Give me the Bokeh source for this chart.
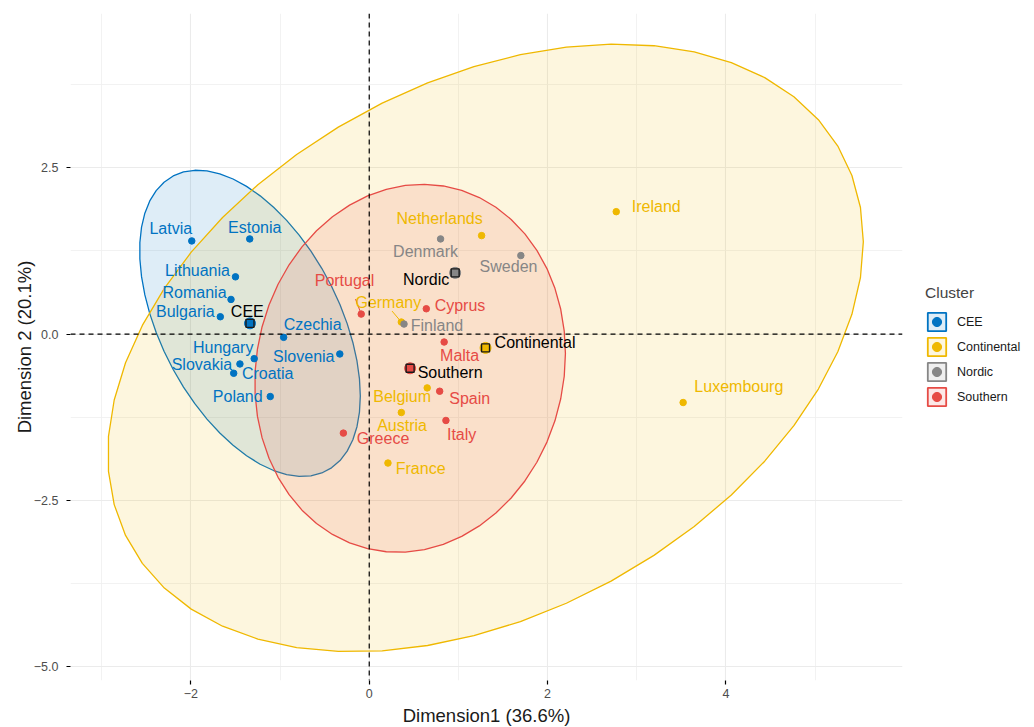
import numpy as np
from bokeh.plotting import figure
from bokeh.models import (ColumnDataSource, Span, FixedTicker, Legend, LegendItem, Range1d)
from bokeh.core.properties import value
from bokeh.embed import file_html
from bokeh.resources import INLINE

# ---- data: country scores on the first two dimensions ----
countries = ["Latvia", "Estonia", "Lithuania", "Romania", "Bulgaria", "Czechia",
             "Hungary", "Slovakia", "Croatia", "Slovenia", "Poland",
             "Netherlands", "Germany", "Ireland", "Belgium", "Austria", "France",
             "Luxembourg",
             "Denmark", "Sweden", "Finland",
             "Portugal", "Cyprus", "Malta", "Spain", "Italy", "Greece"]
dim1 = [-1.99, -1.34, -1.50, -1.55, -1.67, -0.96,
        -1.29, -1.45, -1.52, -0.33, -1.11,
        1.26, 0.36, 2.77, 0.65, 0.36, 0.21, 3.52,
        0.80, 1.70, 0.39,
        -0.09, 0.64, 0.84, 0.79, 0.86, -0.29]
dim2 = [1.40, 1.43, 0.86, 0.52, 0.26, -0.05,
        -0.37, -0.45, -0.59, -0.30, -0.94,
        1.48, 0.18, 1.84, -0.81, -1.18, -1.94, -1.03,
        1.43, 1.18, 0.15,
        0.30, 0.38, -0.12, -0.86, -1.30, -1.49]
cluster = (["CEE"] * 11 + ["Continental"] * 7 + ["Nordic"] * 3 + ["Southern"] * 6)

cluster_names = ["CEE", "Continental", "Nordic", "Southern"]
cluster_colors = ["#0073C2", "#EFB800", "#868686", "#E64B45"]

x_ticks = [-2, 0, 2, 4]
x_minor = [-3, -1, 1, 3, 5]
y_ticks = [-5.0, -2.5, 0.0, 2.5]
y_minor = [-3.75, -1.25, 1.25, 3.75]
x_title = "Dimension1 (36.6%)"
y_title = "Dimension 2 (20.1%)"

# label placement (screen pixels relative to each point)
label_offsets = {
    "Latvia": (-21, -12), "Estonia": (5, -11), "Lithuania": (-38, -6),
    "Romania": (-36.5, -7), "Bulgaria": (-35, -5), "Czechia": (29, -12.5),
    "Hungary": (-31, -11), "Slovakia": (-38, 1), "Croatia": (34, 0.5),
    "Slovenia": (-36, 2.7), "Poland": (-32.5, 0.3),
    "Netherlands": (-42, -17.5), "Germany": (-13, -19.5), "Ireland": (40, -5),
    "Belgium": (-25, 8.7), "Austria": (0.7, 12.7), "France": (32.7, 5.7),
    "Luxembourg": (55.7, -15.7),
    "Denmark": (-15, 13), "Sweden": (-12.3, 11.3), "Finland": (33, 1),
    "Portugal": (-16.7, -34), "Cyprus": (33.7, -3.7), "Malta": (15.5, 13.7),
    "Spain": (30, 7.7), "Italy": (15.7, 14), "Greece": (39.7, 5.7),
}
center_offsets = {"CEE": (-2.7, -12), "Continental": (49.5, -5.3),
                  "Nordic": (-29, 7), "Southern": (40, 4.7)}
# leader lines for labels pushed away from their points
leader_ends = {"Portugal": (-5.7, -15), "Germany": (-9.3, -11)}

FRAME_W, FRAME_H = 832, 667
X0, X1 = -3.35, 5.98
Y0, Y1 = -5.21, 4.82
px_x = FRAME_W / (X1 - X0)
px_y = FRAME_H / (Y1 - Y0)
FONT = "Liberation Sans"

color_of = dict(zip(cluster_names, cluster_colors))
x = np.array(dim1)
y = np.array(dim2)
grp = np.array(cluster)


def norm_ellipse(xs, ys, level=0.95, segments=51):
    """Multivariate-normal data ellipse (same construction as stat_ellipse)."""
    pts = np.column_stack([xs, ys])
    dfn, dfd = 2, len(pts) - 1
    if dfd < 3:
        return None
    center = pts.mean(axis=0)
    upper = np.linalg.cholesky(np.cov(pts, rowvar=False)).T
    fq = (dfd / 2.0) * ((1 - level) ** (-2.0 / dfd) - 1)  # F(2, dfd) quantile
    radius = np.sqrt(dfn * fq)
    ang = np.arange(segments + 1) * 2 * np.pi / segments
    circle = np.column_stack([np.cos(ang), np.sin(ang)])
    e = center + radius * (circle @ upper)
    return e[:, 0], e[:, 1]


p = figure(frame_width=FRAME_W, frame_height=FRAME_H,
           x_range=Range1d(X0, X1), y_range=Range1d(Y0, Y1),
           output_backend="svg", toolbar_location=None,
           min_border_left=70, min_border_right=132,
           min_border_top=13, min_border_bottom=47,
           background_fill_color="white", border_fill_color="white")
p.outline_line_color = None

# axes and grid
p.xaxis.ticker = FixedTicker(ticks=x_ticks, minor_ticks=x_minor)
p.yaxis.ticker = FixedTicker(ticks=y_ticks, minor_ticks=y_minor)
p.xaxis.major_label_overrides = {t: (str(t).replace("-", "\u2212")) for t in x_ticks}
p.yaxis.major_label_overrides = {t: (f"{t:.1f}".replace("-", "\u2212")) for t in y_ticks}
for ax in (p.xaxis[0], p.yaxis[0]):
    ax.axis_line_color = None
    ax.major_tick_line_color = "black"
    ax.major_tick_line_width = 1.2
    ax.major_tick_out = 4
    ax.major_tick_in = 0
    ax.minor_tick_out = 0
    ax.minor_tick_in = 0
    ax.major_label_text_font = FONT
    ax.major_label_text_font_size = "12.5px"
    ax.major_label_text_color = "#4D4D4D"
    ax.axis_label_text_font = FONT
    ax.axis_label_text_font_size = "18.5px"
    ax.axis_label_text_font_style = "normal"
    ax.axis_label_text_color = "#1A1A1A"
p.xaxis.axis_label = x_title
p.yaxis.axis_label = y_title
p.xaxis.major_label_standoff = 4
p.xaxis.axis_label_standoff = 4
p.yaxis.major_label_standoff = 8
p.yaxis.axis_label_standoff = -4

for g in (p.xgrid[0], p.ygrid[0]):
    g.grid_line_color = "#EBEBEB"
    g.grid_line_width = 1.1
    g.minor_grid_line_color = "#EFEFEF"
    g.minor_grid_line_width = 0.8

# confidence ellipses per cluster
for name in cluster_names:
    m = grp == name
    ell = norm_ellipse(x[m], y[m])
    if ell is None:
        continue
    col = color_of[name]
    p.patch(ell[0], ell[1], fill_color=col, fill_alpha=0.13,
            line_color=col, line_width=1.3)

# reference lines through the origin
p.add_layout(Span(location=0, dimension="height", line_color="black",
                  line_dash="5 4", line_width=1.2))
p.add_layout(Span(location=0, dimension="width", line_color="black",
                  line_dash="5 4", line_width=1.2))

colors = [color_of[c] for c in cluster]
dx = [label_offsets[c][0] for c in countries]
dy = [label_offsets[c][1] for c in countries]
src = ColumnDataSource(dict(x=x, y=y, name=countries, color=colors, dx=dx, dy=dy))

# leader segments
lead = [i for i, c in enumerate(countries) if c in leader_ends]
p.segment(x0=[x[i] for i in lead], y0=[y[i] for i in lead],
          x1=[x[i] + leader_ends[countries[i]][0] / px_x for i in lead],
          y1=[y[i] - leader_ends[countries[i]][1] / px_y for i in lead],
          line_color=[colors[i] for i in lead], line_width=1)

p.scatter("x", "y", source=src, marker="circle", size=6.5,
          fill_color="color", line_color="color")
p.text("x", "y", text="name", source=src, x_offset="dx", y_offset="dy",
       text_color="color", text_font=value(FONT), text_font_size="16px",
       text_align="center", text_baseline="middle")

# cluster centres
cx = [float(x[grp == n].mean()) for n in cluster_names]
cy = [float(y[grp == n].mean()) for n in cluster_names]
csrc = ColumnDataSource(dict(x=cx, y=cy, name=cluster_names, color=cluster_colors,
                             dx=[center_offsets[n][0] for n in cluster_names],
                             dy=[center_offsets[n][1] for n in cluster_names]))
p.scatter("x", "y", source=csrc, marker="circle", size=11,
          fill_color="color", line_color="color")
p.scatter("x", "y", source=csrc, marker="square", size=8,
          fill_color="color", line_color="#1A1A1A", line_width=1.4)
p.text("x", "y", text="name", source=csrc, x_offset="dx", y_offset="dy",
       text_color="black", text_font=value(FONT), text_font_size="16px",
       text_align="center", text_baseline="middle")

# legend keys: renderers with a single undefined (NaN) row, drawn only in the legend
nan = float("nan")
items = []
for name, col in zip(cluster_names, cluster_colors):
    box = p.quad(left=[nan], right=[nan], top=[nan], bottom=[nan], fill_color=col,
                 fill_alpha=0.13, line_color=col, line_width=1.8)
    dot = p.scatter(x=[nan], y=[nan], marker="circle", size=9,
                    fill_color=col, line_color=col)
    items.append(LegendItem(label=name, renderers=[box, dot]))
legend = Legend(items=items, title="Cluster", location=(23, 272),
                glyph_width=23, glyph_height=23, label_height=23, spacing=2,
                label_standoff=9, padding=0, margin=0,
                border_line_color=None, background_fill_alpha=0,
                title_text_font=FONT, title_text_font_size="15.5px",
                title_text_font_style="normal", title_standoff=8,
                label_text_font=FONT, label_text_font_size="12.5px",
                label_text_color="#1A1A1A")
p.add_layout(legend, "right")

open("out.html", "w").write(file_html(p, INLINE))
